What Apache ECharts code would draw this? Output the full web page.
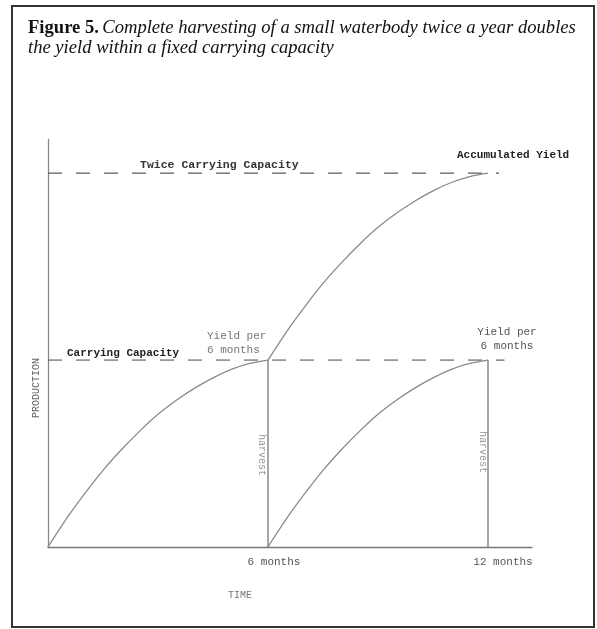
<!DOCTYPE html>
<html>
<head>
<meta charset="utf-8">
<script src="https://cdn.jsdelivr.net/npm/echarts@6/dist/echarts.min.js"></script>
<style>html,body{margin:0;padding:0;background:#fff}#c{width:597px;height:629px}</style>
</head>
<body>
<div id="c"></div>
<script>
// Data (months on x, production as fraction of carrying capacity on y)
const months1 = [0, 0.5, 1, 1.5, 2, 2.5, 3, 3.5, 4, 4.5, 5, 5.5, 6];
const growth1 = [0, 0.15, 0.285, 0.41, 0.52, 0.62, 0.71, 0.785, 0.85, 0.905, 0.95, 0.982, 1.0];
const months2 = [6, 6.5, 7, 7.5, 8, 8.5, 9, 9.5, 10, 10.5, 11, 11.5, 12];
const growth2 = [0, 0.15, 0.285, 0.41, 0.52, 0.62, 0.71, 0.785, 0.85, 0.905, 0.95, 0.982, 1.0];
const accumulated = [1, 1.15, 1.285, 1.41, 1.52, 1.62, 1.71, 1.785, 1.85, 1.905, 1.95, 1.982, 2.0];
const harvestMonths = [6, 12];
const carryingCapacity = 1;
const twiceCapacity = 2;
const ccLineEnd = 12.45;
const twiceLineEnd = 12.3;
const xTickLabels = ['6 months', '12 months'];

const pair = (xs, ys) => xs.map((x, i) => [x, ys[i]]);
const mono = 'Liberation Mono, Courier New, monospace';
const serif = 'Liberation Serif, Times New Roman, serif';

const curveStyle = { color: '#8a8a8a', width: 1.3 };
const curve = d => ({ type: 'line', data: d, smooth: 0.25, showSymbol: false, lineStyle: curveStyle, z: 3 });
const series = [
  curve(pair(months1, growth1)),
  curve(pair(months2, growth2)),
  curve(pair(months2, accumulated)),
  { type: 'line', data: [[0, carryingCapacity], [ccLineEnd, carryingCapacity]], showSymbol: false,
    lineStyle: { color: '#666', width: 1.2, type: [14, 14] }, z: 2 },
  { type: 'line', data: [[0, twiceCapacity], [twiceLineEnd, twiceCapacity]], showSymbol: false,
    lineStyle: { color: '#555', width: 1.2, type: [14, 14] }, z: 2 }
];
harvestMonths.forEach(m => {
  series.push({ type: 'line', data: [[m, 0], [m, carryingCapacity]], showSymbol: false,
    lineStyle: { color: '#777', width: 1.3 }, z: 2 });
});

const chart = echarts.init(document.getElementById('c'), null, { renderer: 'canvas' });
chart.setOption({
  animation: false,
  backgroundColor: '#fff',
  grid: { left: 48, right: 65, top: 139.5, bottom: 82 },
  xAxis: { type: 'value', min: 0, max: 13.2, interval: 6,
    axisLine: { lineStyle: { color: '#777', width: 1.3 } },
    axisTick: { show: false }, axisLabel: { show: false }, splitLine: { show: false } },
  yAxis: { type: 'value', min: 0, max: 2.18,
    axisLine: { show: true, lineStyle: { color: '#888', width: 1.3 } },
    axisTick: { show: false }, axisLabel: { show: false }, splitLine: { show: false } },
  series: series,
  graphic: [
    { type: 'rect', shape: { x: 12, y: 6, width: 582, height: 621 },
      style: { fill: 'none', stroke: '#333', lineWidth: 2 }, silent: true },
    { type: 'text', x: 28, y: 28, style: {
        text: '{b|Figure 5.} {i|Complete harvesting of a small waterbody twice a year doubles}',
        textVerticalAlign: 'middle',
        rich: { b: { font: 'bold 18.6px ' + serif, fill: '#111' }, i: { font: 'italic 18.6px ' + serif, fill: '#111' } } } },
    { type: 'text', x: 28, y: 48, style: {
        text: 'the yield within a fixed carrying capacity', font: 'italic 18.6px ' + serif, fill: '#111',
        textVerticalAlign: 'middle' } },
    { type: 'text', x: 140, y: 165, style: { text: 'Twice Carrying Capacity', font: 'bold 11.5px ' + mono, fill: '#333', textVerticalAlign: 'middle' } },
    { type: 'text', x: 457, y: 155, style: { text: 'Accumulated Yield', font: 'bold 11px ' + mono, fill: '#222', textVerticalAlign: 'middle' } },
    { type: 'text', x: 67, y: 353, style: { text: 'Carrying Capacity', font: 'bold 11px ' + mono, fill: '#222', textVerticalAlign: 'middle' } },
    { type: 'text', x: 207, y: 336, style: { text: 'Yield per', font: '11px ' + mono, fill: '#777', textVerticalAlign: 'middle' } },
    { type: 'text', x: 207, y: 350, style: { text: '6 months', font: '11px ' + mono, fill: '#777', textVerticalAlign: 'middle' } },
    { type: 'text', x: 507, y: 332, style: { text: 'Yield per', font: '11px ' + mono, fill: '#555', textAlign: 'center', textVerticalAlign: 'middle' } },
    { type: 'text', x: 507, y: 346, style: { text: '6 months', font: '11px ' + mono, fill: '#555', textAlign: 'center', textVerticalAlign: 'middle' } },
    { type: 'text', x: 274, y: 562, style: { text: xTickLabels[0], font: '11px ' + mono, fill: '#555', textAlign: 'center', textVerticalAlign: 'middle' } },
    { type: 'text', x: 503, y: 562, style: { text: xTickLabels[1], font: '11px ' + mono, fill: '#555', textAlign: 'center', textVerticalAlign: 'middle' } },
    { type: 'text', x: 240, y: 595, style: { text: 'TIME', font: '10px ' + mono, fill: '#777', textAlign: 'center', textVerticalAlign: 'middle' } },
    { type: 'text', x: 36, y: 388, rotation: Math.PI / 2, style: { text: 'PRODUCTION', font: '10px ' + mono, fill: '#666', textAlign: 'center', textVerticalAlign: 'middle' } },
    { type: 'text', x: 262, y: 455, rotation: -Math.PI / 2, style: { text: 'harvest', font: '10px ' + mono, fill: '#999', textAlign: 'center', textVerticalAlign: 'middle' } },
    { type: 'text', x: 483, y: 452, rotation: -Math.PI / 2, style: { text: 'harvest', font: '10px ' + mono, fill: '#999', textAlign: 'center', textVerticalAlign: 'middle' } }
  ]
});
</script>
</body>
</html>
